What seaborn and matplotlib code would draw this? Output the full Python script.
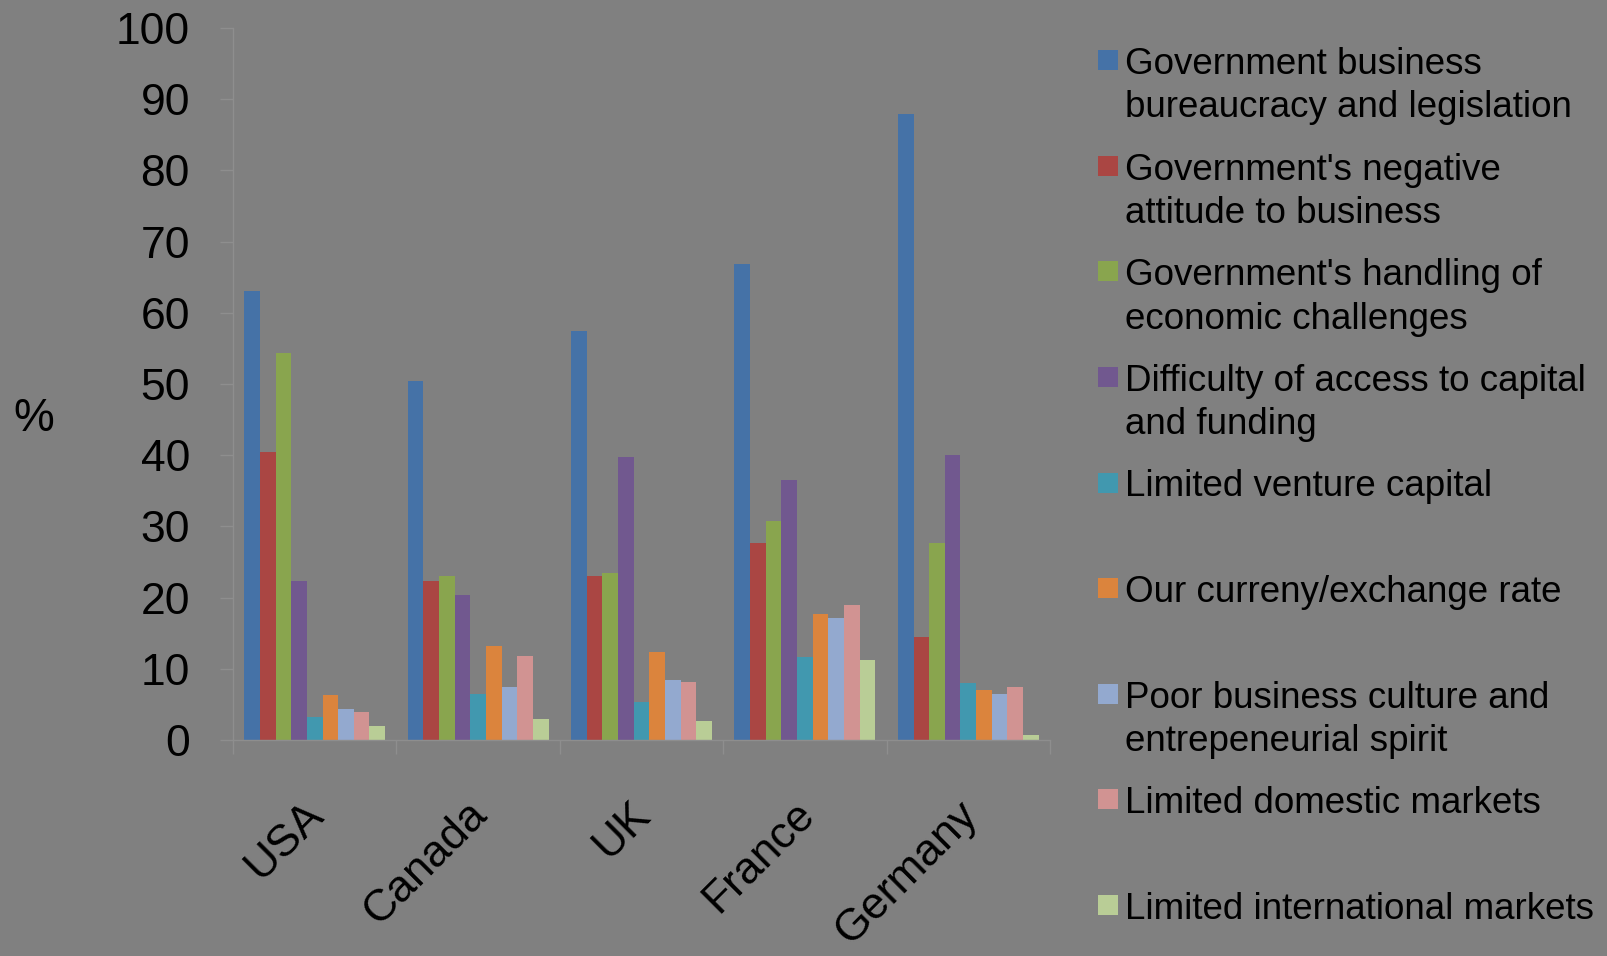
import numpy as np
import pandas as pd
import matplotlib
matplotlib.use("Agg")
import matplotlib.pyplot as plt
import matplotlib.transforms as mtransforms
from matplotlib.lines import Line2D
from matplotlib.ticker import FixedLocator
import seaborn as sns

# ---------------- data ----------------
countries = ["USA", "Canada", "UK", "France", "Germany"]
issues = [
    "Government business\nbureaucracy and legislation",
    "Government's negative\nattitude to business",
    "Government's handling of\neconomic challenges",
    "Difficulty of access to capital\nand funding",
    "Limited venture capital",
    "Our curreny/exchange rate",
    "Poor business culture and\nentrepeneurial spirit",
    "Limited domestic markets",
    "Limited international markets",
]
gov_bureaucracy = [63.0, 50.4, 57.4, 66.8, 87.9]
gov_negative = [40.4, 22.4, 23.0, 27.6, 14.5]
gov_handling = [54.4, 23.1, 23.4, 30.8, 27.6]
capital_access = [22.4, 20.4, 39.8, 36.5, 40.0]
venture_capital = [3.2, 6.5, 5.4, 11.6, 8.0]
currency = [6.3, 13.2, 12.4, 17.7, 7.0]
business_culture = [4.3, 7.5, 8.4, 17.2, 6.4]
domestic_markets = [4.0, 11.8, 8.1, 19.0, 7.5]
intl_markets = [2.0, 3.0, 2.7, 11.3, 0.7]
series = [gov_bureaucracy, gov_negative, gov_handling, capital_access,
          venture_capital, currency, business_culture, domestic_markets,
          intl_markets]
y_ticks = [0, 10, 20, 30, 40, 50, 60, 70, 80, 90, 100]
colors = ["#4572A7", "#AA4643", "#89A54E", "#71588F", "#4198AF",
          "#DB843D", "#93A9CF", "#D19392", "#B9CD96"]

rows = []
for issue, vals in zip(issues, series):
    for c, v in zip(countries, vals):
        rows.append({"Country": c, "Issue": issue, "Value": v})
df = pd.DataFrame(rows)

# ---------------- style ----------------
BG = "#808080"
AXC = "#8E8E8E"
FONT = ["Liberation Sans", "DejaVu Sans"]
plt.rcParams["font.family"] = FONT

W, H = 1608, 956
fig = plt.figure(figsize=(W / 100, H / 100), dpi=100, facecolor=BG)
ax = fig.add_axes([233 / W, (H - 740) / H, 817 / W, 712 / H])
ax.set_facecolor(BG)

sns.barplot(data=df, x="Country", y="Value", hue="Issue",
            order=countries, hue_order=issues, palette=colors,
            width=0.862, saturation=1, linewidth=0, ax=ax)
if ax.get_legend() is not None:
    ax.get_legend().remove()

ax.set_xlim(-0.5, len(countries) - 0.5)
ax.set_ylim(0, 100)
ax.set_yticks(y_ticks)
ax.set_yticklabels([str(t) for t in y_ticks], fontsize=32, color="black")
ax.tick_params(axis="y", length=9.4, width=1, color=AXC, pad=21.6)

for s in ["top", "right"]:
    ax.spines[s].set_visible(False)
for s in ["left", "bottom"]:
    ax.spines[s].set_color(AXC)
    ax.spines[s].set_linewidth(1)

# category separators as minor ticks
ax.xaxis.set_minor_locator(FixedLocator(np.arange(-0.5, len(countries), 1.0)))
ax.tick_params(axis="x", which="minor", length=10, width=1, color=AXC)
ax.tick_params(axis="x", which="major", length=0, pad=0)
ax.set_xticks(range(len(countries)))
ax.set_xticklabels(countries, fontsize=32, color="black", rotation=45,
                   ha="right", va="baseline", rotation_mode="anchor")
off = mtransforms.ScaledTranslation(11 / 100, -76 / 100, fig.dpi_scale_trans)
for lbl in ax.get_xticklabels():
    lbl.set_transform(lbl.get_transform() + off)

ax.set_xlabel("")
ax.set_ylabel("%", rotation=0, fontsize=33, color="black", ha="center", va="center")
ax.yaxis.set_label_coords((34 - 233) / 817, (740 - 419) / 712)

# ---------------- legend ----------------
handles = [Line2D([], [], marker="s", linestyle="", markersize=14,
                  markerfacecolor=c, markeredgewidth=0) for c in colors]
labels = [l if ("\n" in l or i == len(issues) - 1) else l + "\n "
          for i, l in enumerate(issues)]
leg = fig.legend(handles, labels, loc="upper left",
                 bbox_to_anchor=(1097 / W, 1 - 47 / H),
                 frameon=False, borderpad=0, borderaxespad=0,
                 handlelength=0.6, handleheight=0.76, handletextpad=0.17,
                 labelspacing=0.74, prop={"family": FONT, "size": 26.5})
for t in leg.get_texts():
    t.set_linespacing(1.31)
    t.set_color("black")
for col in leg._legend_handle_box.get_children():
    for item in col.get_children():
        item.align = "top"

fig.savefig("out.png", dpi=100, facecolor=BG)
